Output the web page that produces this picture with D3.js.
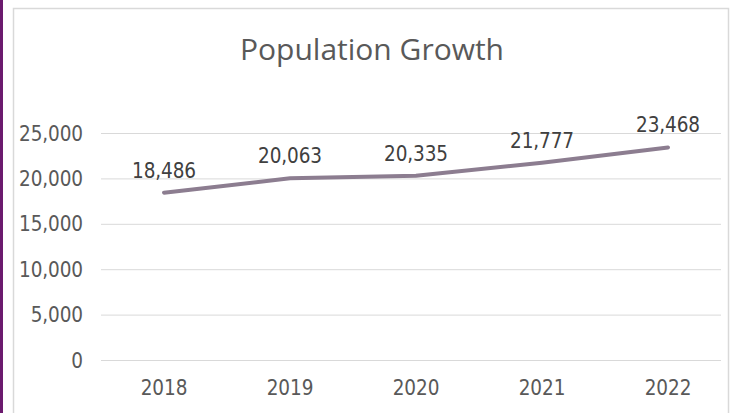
<!DOCTYPE html>
<html>
<head>
<meta charset="utf-8">
<script src="https://cdn.jsdelivr.net/npm/d3@7"></script>
<style>
  body { margin: 0; background: #fff; }
  svg { display: block; }
</style>
</head>
<body>
<div id="chart"></div>
<script>
let years = ["2018", "2019", "2020", "2021", "2022"]
let population = [18486, 20063, 20335, 21777, 23468]
let yTicks = [0, 5000, 10000, 15000, 20000, 25000]
let title = "Population Growth"

let w = 733, h = 413
let svg = d3.select("#chart").append("svg")
    .attr("width", w)
    .attr("height", h)

// purple strip on the left edge
svg.append("rect")
    .attr("x", 0).attr("y", 0)
    .attr("width", 3).attr("height", h)
    .attr("fill", "#6b1a6e")

// chart frame
svg.append("rect")
    .attr("x", 13.5).attr("y", 8.5)
    .attr("width", 715).attr("height", h)
    .attr("fill", "#fff")
    .attr("stroke", "#d9d9d9")
    .attr("stroke-width", 1.5)

let x = d3.scaleBand()
    .domain(years)
    .range([101, 731])

let y = d3.scaleLinear()
    .domain([0, 25000])
    .range([360.5, 133.5])

let font = "'DejaVu Sans Condensed', 'DejaVu Sans', sans-serif"

function styleText(sel) {
    sel.style("font-family", font)
        .style("font-size", "20.5px")
        .style("letter-spacing", "-0.1px")
}

// gridlines
svg.append("g")
    .selectAll("line")
    .data(yTicks)
    .enter()
    .append("line")
    .attr("x1", 101)
    .attr("x2", 721)
    .attr("y1", d => y(d))
    .attr("y2", d => y(d))
    .attr("stroke", "#d9d9d9")
    .attr("stroke-width", 1)

// y axis labels
let yAxis = svg.append("g")
    .attr("transform", "translate(83,0)")
    .call(d3.axisLeft(y).tickValues(yTicks).tickSize(0).tickPadding(0).tickFormat(d3.format(",")))
yAxis.select(".domain").remove()
yAxis.selectAll("text")
    .attr("fill", "#595959")
    .call(styleText)

// x axis labels
let xAxis = svg.append("g")
    .attr("transform", "translate(0,380)")
    .call(d3.axisBottom(x).tickSize(0).tickPadding(0))
xAxis.select(".domain").remove()
xAxis.selectAll("text")
    .attr("fill", "#595959")
    .call(styleText)

// line
let line = d3.line()
    .x((d, i) => x(years[i]) + x.bandwidth() / 2)
    .y(d => y(d))

svg.append("path")
    .datum(population)
    .attr("d", line)
    .attr("fill", "none")
    .attr("stroke", "#8c7d90")
    .attr("stroke-width", 4)
    .attr("stroke-linecap", "round")

// data labels
svg.append("g")
    .selectAll("text")
    .data(population)
    .enter()
    .append("text")
    .attr("x", (d, i) => x(years[i]) + x.bandwidth() / 2)
    .attr("y", d => y(d) - 15)
    .attr("text-anchor", "middle")
    .attr("fill", "#404040")
    .call(styleText)
    .text(d => d3.format(",")(d))

// title
svg.append("text")
    .attr("x", 372)
    .attr("y", 60)
    .attr("text-anchor", "middle")
    .attr("fill", "#595959")
    .style("font-family", "'Open Sans', sans-serif")
    .style("font-size", "30px")
    .text(title)
</script>
</body>
</html>
